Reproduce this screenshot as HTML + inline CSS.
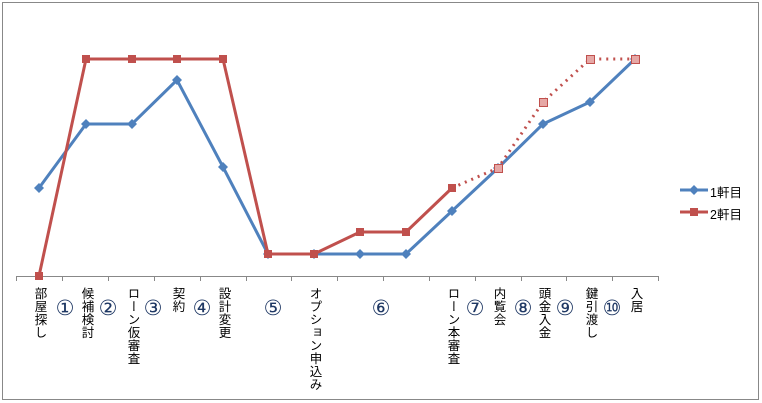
<!DOCTYPE html>
<html><head><meta charset="utf-8"><style>
body{margin:0;width:762px;height:403px;background:#fff;position:relative;overflow:hidden;font-family:"Liberation Sans","Noto Sans CJK JP",sans-serif;}
.v{position:absolute;top:287px;writing-mode:vertical-rl;font-size:12.5px;line-height:13px;color:#000;letter-spacing:0.5px;transform:translateX(-50%);}
.c{position:absolute;top:296px;font-size:21px;color:#1f3864;transform:translateX(-50%);line-height:24px;font-family:"DejaVu Sans","Noto Sans CJK JP",sans-serif;}
.lg{position:absolute;font-size:12.5px;color:#000;}
</style></head><body>
<svg width="762" height="403" style="position:absolute;left:0;top:0">
<rect x="2.5" y="2.5" width="756" height="397" fill="none" stroke="#888" stroke-width="1"/>
<line x1="16" y1="276.5" x2="658" y2="276.5" stroke="#888"/>
<g stroke="#888">
<line x1="16.5" y1="276" x2="16.5" y2="281"/><line x1="62.5" y1="276" x2="62.5" y2="281"/><line x1="108.5" y1="276" x2="108.5" y2="281"/><line x1="154.5" y1="276" x2="154.5" y2="281"/><line x1="200.5" y1="276" x2="200.5" y2="281"/><line x1="246.5" y1="276" x2="246.5" y2="281"/><line x1="291.5" y1="276" x2="291.5" y2="281"/><line x1="337.5" y1="276" x2="337.5" y2="281"/><line x1="383.5" y1="276" x2="383.5" y2="281"/><line x1="429.5" y1="276" x2="429.5" y2="281"/><line x1="475.5" y1="276" x2="475.5" y2="281"/><line x1="521.5" y1="276" x2="521.5" y2="281"/><line x1="566.5" y1="276" x2="566.5" y2="281"/><line x1="612.5" y1="276" x2="612.5" y2="281"/><line x1="658.5" y1="276" x2="658.5" y2="281"/>
</g>
<polyline fill="none" stroke="#4f81bd" stroke-width="3" points="39,188 86,124 132,124 177,80 223,167 268,254 314,254 360,254 406,254 452,211 498,168 543,124 590,102 635,59"/>
<g fill="#4f81bd">
<path d="M39 183l5 5-5 5-5-5z"/><path d="M86 119l5 5-5 5-5-5z"/><path d="M132 119l5 5-5 5-5-5z"/><path d="M177 75l5 5-5 5-5-5z"/><path d="M223 162l5 5-5 5-5-5z"/><path d="M268 249l5 5-5 5-5-5z"/><path d="M314 249l5 5-5 5-5-5z"/><path d="M360 249l5 5-5 5-5-5z"/><path d="M406 249l5 5-5 5-5-5z"/><path d="M452 206l5 5-5 5-5-5z"/><path d="M498 163l5 5-5 5-5-5z"/><path d="M543 119l5 5-5 5-5-5z"/><path d="M590 97l5 5-5 5-5-5z"/><path d="M635 54l5 5-5 5-5-5z"/>
</g>
<polyline fill="none" stroke="#c0504d" stroke-width="3" points="39,276 86,59 132,59 177,59 223,59 268,254 314,254 360,232 406,232 452,188"/>
<polyline fill="none" stroke="#c0504d" stroke-width="3" stroke-dasharray="2,5" points="452,188 498,168 543,102 590,59 635,59"/>
<g fill="#c0504d">
<rect x="35" y="272" width="8" height="8"/><rect x="82" y="55" width="8" height="8"/><rect x="128" y="55" width="8" height="8"/><rect x="173" y="55" width="8" height="8"/><rect x="219" y="55" width="8" height="8"/><rect x="264" y="250" width="8" height="8"/><rect x="310" y="250" width="8" height="8"/><rect x="356" y="228" width="8" height="8"/><rect x="402" y="228" width="8" height="8"/><rect x="448" y="184" width="8" height="8"/>
</g>
<g fill="#e6a8a6" stroke="#c0504d" stroke-width="1">
<rect x="494.5" y="164.5" width="8" height="8"/><rect x="539.5" y="98.5" width="8" height="8"/><rect x="586.5" y="55.5" width="8" height="8"/><rect x="631.5" y="55.5" width="8" height="8"/>
</g>
<line x1="680" y1="190" x2="708" y2="190" stroke="#4f81bd" stroke-width="3"/><path d="M694 185l5 5-5 5-5-5z" fill="#4f81bd"/>
<line x1="680" y1="212" x2="708" y2="212" stroke="#c0504d" stroke-width="3"/><rect x="690" y="208" width="8" height="8" fill="#c0504d"/>
</svg>
<div class="lg" style="left:710px;top:182px">1軒目</div>
<div class="lg" style="left:710px;top:204px">2軒目</div>
<div class="v" style="left:39px">部屋探し</div>
<div class="c" style="left:65px">①</div>
<div class="v" style="left:86px">候補検討</div>
<div class="c" style="left:108px">②</div>
<div class="v" style="left:132px">ローン仮審査</div>
<div class="c" style="left:153px">③</div>
<div class="v" style="left:177px">契約</div>
<div class="c" style="left:202px">④</div>
<div class="v" style="left:223px">設計変更</div>
<div class="c" style="left:273px">⑤</div>
<div class="v" style="left:314px">オプション申込み</div>
<div class="c" style="left:381px">⑥</div>
<div class="v" style="left:452px">ローン本審査</div>
<div class="c" style="left:475px">⑦</div>
<div class="v" style="left:498px">内覧会</div>
<div class="c" style="left:523px">⑧</div>
<div class="v" style="left:543px">頭金入金</div>
<div class="c" style="left:565px">⑨</div>
<div class="v" style="left:590px">鍵引渡し</div>
<div class="c" style="left:612px">⑩</div>
<div class="v" style="left:635px">入居</div>
</body></html>
